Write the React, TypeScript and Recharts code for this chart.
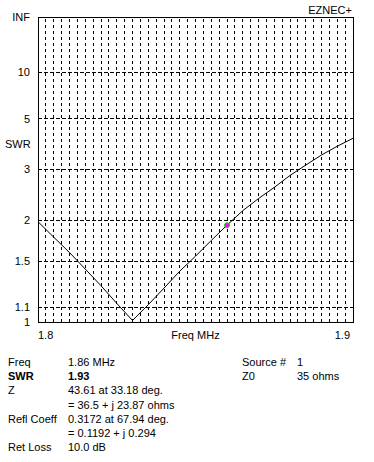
import { LineChart, Line, XAxis, YAxis, ReferenceLine, ReferenceDot, ReferenceArea } from 'recharts';

// frequency sweep (MHz) and SWR
const FREQS = [
  1.8, 1.805, 1.81, 1.815, 1.82, 1.825, 1.83, 1.835, 1.84, 1.845, 1.85,
  1.855, 1.86, 1.865, 1.87, 1.875, 1.88, 1.885, 1.89, 1.895, 1.9,
];
const SWR = [
  1.98, 1.77, 1.59, 1.42, 1.27, 1.13, 1.01, 1.12, 1.25, 1.4, 1.55,
  1.73, 1.93, 2.15, 2.36, 2.58, 2.85, 3.12, 3.42, 3.72, 4.03,
];
const SWR_TICKS = [1, 1.1, 1.5, 2, 3, 5, 10, Infinity];
const SWR_GRID = [1.1, 1.5, 2, 3, 5, 10];
const X_TICKS = [1.8, 1.85, 1.9];
const MARKER = { freq: 1.86, swr: 1.93 };

// EZNEC scales SWR by reflection coefficient magnitude
const toGamma = (s: number) => (s === Infinity ? 1 : (s - 1) / (s + 1));

const chartData = FREQS.map((f, i) => ({ f, g: toGamma(SWR[i]) }));

const FONT = '"Liberation Sans", Arial, sans-serif';

const vGrid: number[] = [];
for (let i = 1; i < 40; i++) vGrid.push(+(1.8 + i * 0.0025).toFixed(4));

const XTick = (props: any) => {
  const { x, y, payload } = props;
  const v = payload.value;
  let label = v.toFixed(1);
  let anchor: 'start' | 'middle' | 'end' = 'middle';
  if (v === 1.8) anchor = 'start';
  else if (v === 1.9) anchor = 'end';
  else label = 'Freq MHz';
  const dx = v === 1.9 ? -3 : 0;
  return (
    <text x={x + dx} y={y + 15} textAnchor={anchor} fontSize={11} fontFamily={FONT} fill="#000">
      {label}
    </text>
  );
};

const yLabel = (g: number) => {
  const s = SWR_TICKS.find((t) => Math.abs(toGamma(t) - g) < 1e-6);
  return s === Infinity ? 'INF' : String(s);
};

const rows: [string, string, boolean?][] = [
  ['Freq', '1.86 MHz'],
  ['SWR', '1.93', true],
  ['Z', '43.61 at 33.18 deg.'],
  ['', '= 36.5 + j 23.87 ohms'],
  ['Refl Coeff', '0.3172 at 67.94 deg.'],
  ['', '= 0.1192 + j 0.294'],
  ['Ret Loss', '10.0 dB'],
];

export default function App() {
  return (
    <div
      style={{
        position: 'absolute',
        left: 0,
        top: 0,
        width: 374,
        height: 462,
        background: '#fff',
        fontFamily: FONT,
        fontSize: 11,
        color: '#000',
      }}
    >
      <div style={{ position: 'absolute', right: 22, top: 4 }}>EZNEC+</div>
      <div style={{ position: 'absolute', left: 5, top: 138 }}>SWR</div>
      <LineChart width={374} height={345} data={chartData} margin={{ top: 17, right: 21, bottom: 0, left: 0 }}>
        <XAxis
          dataKey="f"
          type="number"
          domain={[1.8, 1.9]}
          ticks={X_TICKS}
          tick={<XTick />}
          tickLine={false}
          axisLine={false}
          tickSize={0}
          height={23}
        />
        <YAxis
          type="number"
          domain={[0, 1]}
          ticks={SWR_TICKS.map(toGamma)}
          tickFormatter={yLabel}
          tick={{ fill: '#000', fontSize: 11, fontFamily: FONT }}
          tickLine={false}
          axisLine={false}
          tickSize={0}
          tickMargin={8}
          width={38}
          interval={0}
        />
        {vGrid.map((v) => (
          <ReferenceLine key={'v' + v} x={v} stroke="#000" strokeDasharray="3 3" shapeRendering="crispEdges" />
        ))}
        {SWR_GRID.map((s) => (
          <ReferenceLine key={'h' + s} y={toGamma(s)} stroke="#000" strokeDasharray="4 2" shapeRendering="crispEdges" />
        ))}
        <ReferenceArea
          x1={1.8}
          x2={1.9}
          y1={0}
          y2={1}
          fill="none"
          stroke="#000"
          strokeWidth={1}
          shapeRendering="crispEdges"
        />
        <Line dataKey="g" type="linear" stroke="#000" strokeWidth={1} dot={false} isAnimationActive={false} />
        <ReferenceDot
          x={MARKER.freq}
          y={toGamma(MARKER.swr)}
          r={2.5}
          fill="#ff00ff"
          stroke="#00e000"
          strokeWidth={1}
        />
      </LineChart>
      <div style={{ position: 'absolute', left: 8, top: 355 }}>
        {rows.map(([k, v, bold], i) => (
          <div key={i} style={{ height: 14.2, lineHeight: '14px', whiteSpace: 'nowrap', fontWeight: bold ? 'bold' : 'normal' }}>
            <span style={{ display: 'inline-block', width: 60 }}>{k}</span>
            <span>{v}</span>
          </div>
        ))}
      </div>
      <div style={{ position: 'absolute', left: 242, top: 355 }}>
        {[
          ['Source #', '1'],
          ['Z0', '35 ohms'],
        ].map(([k, v], i) => (
          <div key={i} style={{ height: 14.2, lineHeight: '14px', whiteSpace: 'nowrap' }}>
            <span style={{ display: 'inline-block', width: 55 }}>{k}</span>
            <span>{v}</span>
          </div>
        ))}
      </div>
    </div>
  );
}
